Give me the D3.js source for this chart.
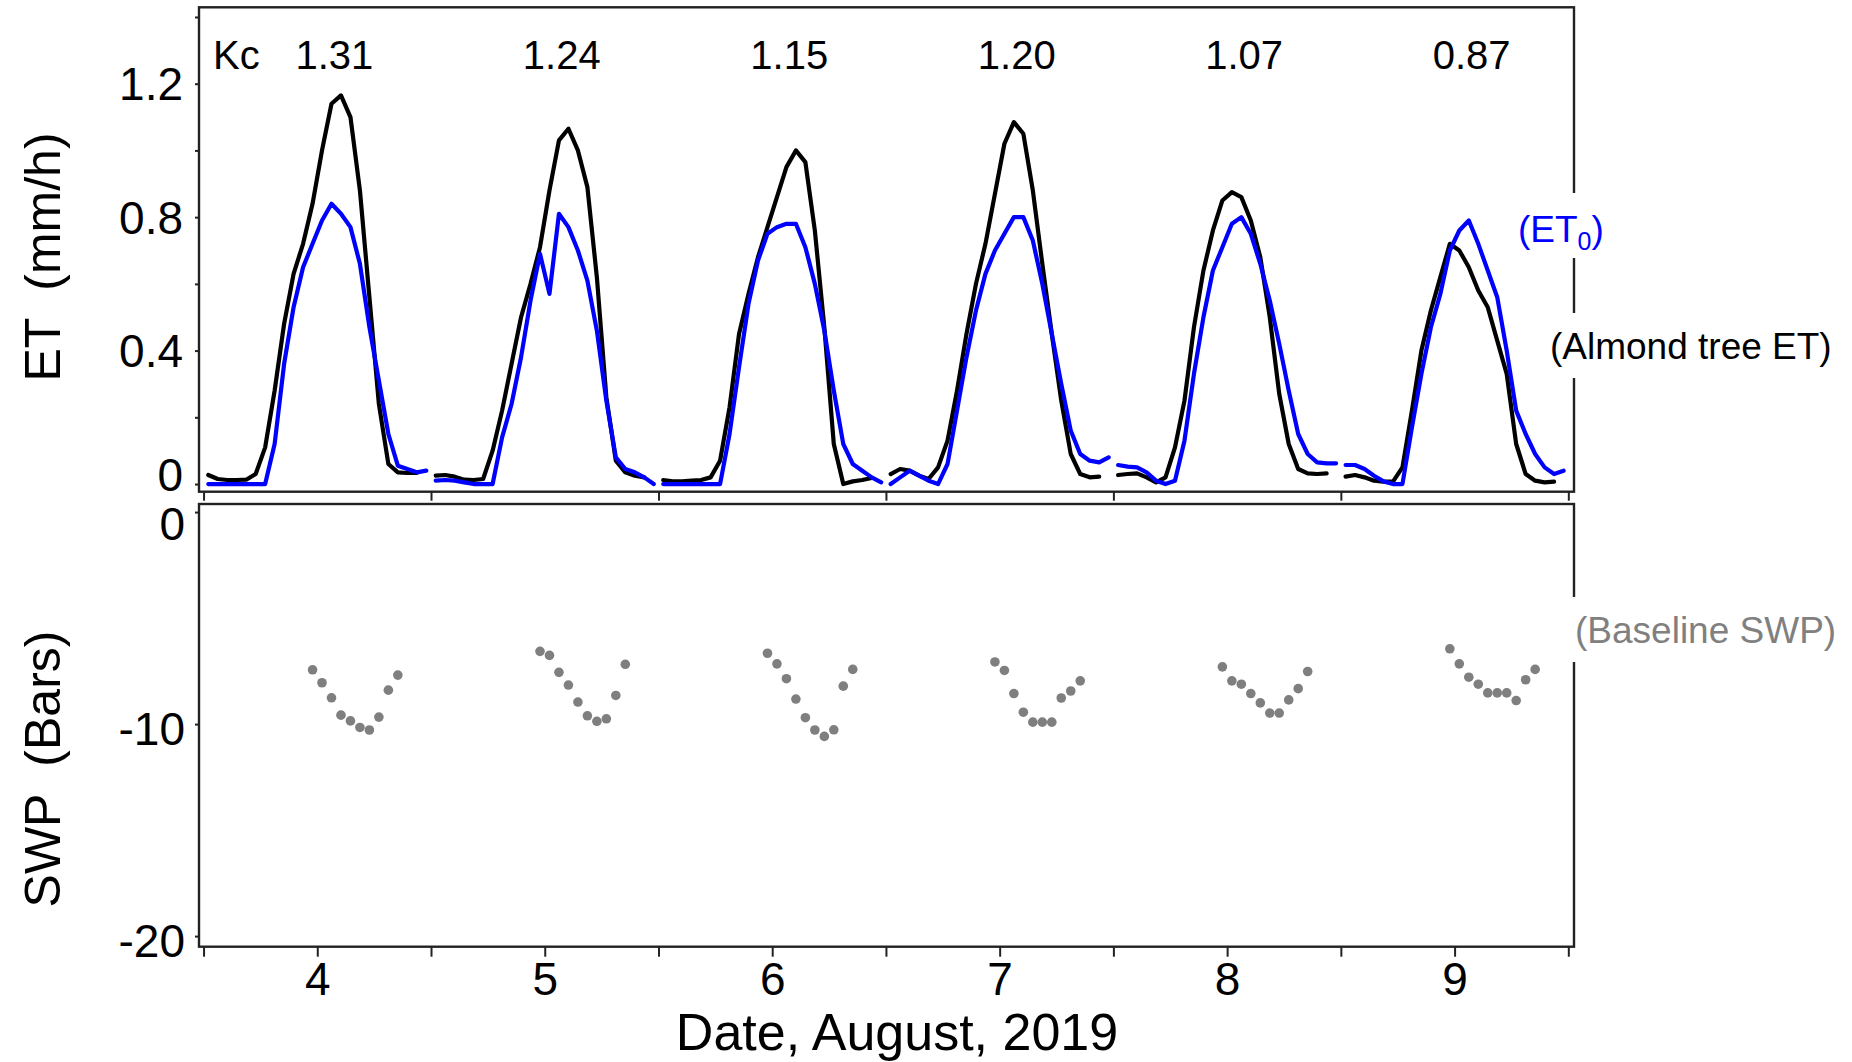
<!DOCTYPE html>
<html>
<head>
<meta charset="utf-8">
<script src="https://cdn.jsdelivr.net/npm/d3@7"></script>
<style>
  html, body { margin: 0; padding: 0; background: #fff; }
  svg { display: block; font-family: "Liberation Sans", Arial, Helvetica, sans-serif; }
</style>
</head>
<body>
<svg id="chart" width="1852" height="1062"></svg>
<script>
// August 2019 days shown on the x axis
const days = [4, 5, 6, 7, 8, 9];
// Daily crop coefficient (tree ET / ET0) printed above each peak
const kcValues = ["1.31", "1.24", "1.15", "1.20", "1.07", "0.87"];

// Hourly almond tree ET (mm/h), hours 0..23 of each day (last hour not logged)
const treeET = [
  [0.027, 0.015, 0.012, 0.012, 0.013, 0.03, 0.11, 0.28, 0.48, 0.63, 0.72, 0.84, 1.00, 1.14, 1.165, 1.10, 0.88, 0.56, 0.24, 0.06, 0.035, 0.033, 0.033, null],
  [0.025, 0.027, 0.022, 0.013, 0.012, 0.015, 0.10, 0.22, 0.36, 0.50, 0.60, 0.71, 0.88, 1.03, 1.065, 1.00, 0.89, 0.62, 0.26, 0.07, 0.035, 0.025, 0.02, null],
  [0.012, 0.008, 0.008, 0.01, 0.012, 0.02, 0.07, 0.23, 0.45, 0.57, 0.68, 0.77, 0.86, 0.95, 1.00, 0.965, 0.76, 0.47, 0.12, 0.0, 0.008, 0.012, 0.018, null],
  [0.03, 0.045, 0.04, 0.025, 0.015, 0.05, 0.13, 0.28, 0.45, 0.60, 0.72, 0.87, 1.02, 1.085, 1.05, 0.88, 0.66, 0.45, 0.25, 0.09, 0.03, 0.02, 0.022, null],
  [0.027, 0.03, 0.032, 0.02, 0.005, 0.02, 0.11, 0.25, 0.47, 0.64, 0.76, 0.85, 0.875, 0.86, 0.79, 0.68, 0.50, 0.27, 0.12, 0.045, 0.032, 0.03, 0.032, null],
  [0.022, 0.027, 0.02, 0.01, 0.007, 0.007, 0.05, 0.22, 0.40, 0.52, 0.62, 0.72, 0.70, 0.65, 0.58, 0.53, 0.43, 0.33, 0.12, 0.03, 0.01, 0.005, 0.007, null]
];

// Hourly reference evapotranspiration ET0 (mm/h), hours 0..23
const et0 = [
  [0, 0, 0, 0, 0, 0, 0, 0.12, 0.36, 0.53, 0.65, 0.72, 0.79, 0.84, 0.81, 0.77, 0.66, 0.47, 0.31, 0.15, 0.055, 0.045, 0.035, 0.04],
  [0.01, 0.012, 0.01, 0.005, 0, 0, 0, 0.14, 0.24, 0.38, 0.55, 0.69, 0.57, 0.81, 0.77, 0.70, 0.61, 0.46, 0.25, 0.08, 0.045, 0.035, 0.02, 0],
  [0, 0, 0, 0, 0, 0, 0, 0.15, 0.35, 0.54, 0.67, 0.75, 0.77, 0.78, 0.78, 0.71, 0.60, 0.46, 0.28, 0.12, 0.06, 0.04, 0.02, 0.005],
  [0, 0.02, 0.04, 0.025, 0.01, 0, 0.06, 0.22, 0.38, 0.52, 0.63, 0.70, 0.75, 0.80, 0.80, 0.73, 0.60, 0.45, 0.30, 0.16, 0.09, 0.07, 0.065, 0.08],
  [0.057, 0.052, 0.05, 0.035, 0.01, 0, 0.01, 0.13, 0.33, 0.50, 0.64, 0.71, 0.78, 0.80, 0.75, 0.66, 0.55, 0.42, 0.28, 0.15, 0.09, 0.065, 0.062, 0.062],
  [0.057, 0.057, 0.045, 0.025, 0.008, 0, 0, 0.17, 0.33, 0.47, 0.57, 0.70, 0.76, 0.79, 0.72, 0.64, 0.56, 0.40, 0.22, 0.15, 0.09, 0.05, 0.03, 0.04]
];

// Baseline stem water potential (bars), hourly from 11:00 to 20:00
const swpHours = [11, 12, 13, 14, 15, 16, 17, 18, 19, 20];
const swp = [
  [-7.44, -8.05, -8.76, -9.58, -9.85, -10.16, -10.28, -9.67, -8.40, -7.69],
  [-6.57, -6.76, -7.56, -8.16, -8.96, -9.61, -9.87, -9.75, -8.65, -7.18],
  [-6.66, -7.16, -7.86, -8.82, -9.70, -10.28, -10.58, -10.27, -8.21, -7.42],
  [-7.07, -7.47, -8.56, -9.44, -9.91, -9.91, -9.91, -8.77, -8.44, -7.96],
  [-7.30, -7.96, -8.12, -8.56, -9.00, -9.48, -9.48, -8.86, -8.33, -7.52],
  [-6.45, -7.16, -7.79, -8.12, -8.53, -8.53, -8.53, -8.89, -7.91, -7.42]
];

// Tick values
const etTicks = [0, 0.2, 0.4, 0.6, 0.8, 1.0, 1.2, 1.4];
const etLabelled = [0, 0.4, 0.8, 1.2];
const swpTicks = [0, -10, -20];
const dayTicks = [3.5, 4, 4.5, 5, 5.5, 6, 6.5, 7, 7.5, 8, 8.5, 9, 9.5];

// ---------------------------------------------------------------- layout
const svg = d3.select("#chart");
const left = 199, right = 1574;
const top1 = 7.3, bottom1 = 491.7;   // ET panel
const top2 = 504, bottom2 = 946.7;   // SWP panel
const frameColor = "#222";

const x = d3.scaleLinear().domain([3.48, 9.525]).range([left, right]);
const yET = d3.scaleLinear().domain([-0.023, 1.429]).range([bottom1, top1]);
const ySWP = d3.scaleLinear().domain([0.38, -20.5]).range([top2, bottom2]);

// time of hour h within day d (day d spans d-0.5 .. d+0.5)
const tOf = (d, h) => d - 0.5 + (h + 0.5) / 24;

// ---------------------------------------------------------------- ET panel
const line = d3.line()
  .defined(p => p.v !== null)
  .x(p => x(p.t))
  .y(p => yET(p.v));

const gLines = svg.append("g");
function drawSeries(series, color) {
  series.forEach((vals, i) => {
    const pts = vals.map((v, h) => ({ t: tOf(days[i], h), v }));
    gLines.append("path")
      .attr("d", line(pts))
      .attr("fill", "none")
      .attr("stroke", color)
      .attr("stroke-width", 4.2)
      .attr("stroke-linejoin", "round")
      .attr("stroke-linecap", "round");
  });
}
drawSeries(treeET, "#000");
drawSeries(et0, "#0000ff");

// Kc row
svg.append("text")
  .attr("x", left + 14).attr("y", 69)
  .attr("font-size", 40).attr("fill", "#000")
  .text("Kc");
svg.append("g").selectAll("text")
  .data(kcValues)
  .join("text")
  .attr("x", (d, i) => x(days[i] + 0.075))
  .attr("y", 69)
  .attr("text-anchor", "middle")
  .attr("font-size", 40)
  .attr("fill", "#000")
  .text(d => d);

// ---------------------------------------------------------------- SWP panel
const gDots = svg.append("g");
swp.forEach((vals, i) => {
  gDots.selectAll(null)
    .data(vals.map((v, k) => ({ t: tOf(days[i], swpHours[k]), v })))
    .join("circle")
    .attr("cx", p => x(p.t))
    .attr("cy", p => ySWP(p.v))
    .attr("r", 4.8)
    .attr("fill", "#7f7f7f");
});

// ---------------------------------------------------------------- frames
[[top1, bottom1], [top2, bottom2]].forEach(([t, b]) => {
  svg.append("rect")
    .attr("x", left).attr("y", t)
    .attr("width", right - left).attr("height", b - t)
    .attr("fill", "none")
    .attr("stroke", frameColor)
    .attr("stroke-width", 2.4);
});

// ---------------------------------------------------------------- axes
function styleAxis(g) {
  g.select(".domain").remove();
  g.selectAll(".tick line").attr("stroke", frameColor).attr("stroke-width", 2);
  g.selectAll(".tick text")
    .attr("fill", "#000")
    .attr("font-family", "'Liberation Sans', Arial, sans-serif");
}

// ET y axis
const axET = svg.append("g")
  .attr("transform", `translate(${left},0)`)
  .call(d3.axisLeft(yET)
    .tickValues(etTicks)
    .tickSize(4)
    .tickPadding(12)
    .tickFormat(d => etLabelled.some(v => Math.abs(v - d) < 1e-9) ? (d === 0 ? "0" : d3.format(".1f")(d)) : ""));
styleAxis(axET);
axET.selectAll(".tick text").attr("font-size", 46).attr("dy", d => d === 0 ? "0.14em" : "0.35em");

// SWP y axis
const axSWP = svg.append("g")
  .attr("transform", `translate(${left},0)`)
  .call(d3.axisLeft(ySWP)
    .tickValues(swpTicks)
    .tickSize(4)
    .tickPadding(10)
    .tickFormat(d => d === 0 ? "0" : String(d)));
styleAxis(axSWP);
axSWP.selectAll(".tick text").attr("font-size", 46).attr("dy", d => d === 0 ? "0.6em" : "0.45em");

// half-day ticks under the ET panel
const axMid = svg.append("g")
  .attr("transform", `translate(0,${bottom1})`)
  .call(d3.axisBottom(x)
    .tickValues(dayTicks.filter(d => d % 1 !== 0))
    .tickSize(9)
    .tickFormat(""));
styleAxis(axMid);

// date axis under the SWP panel
const axDate = svg.append("g")
  .attr("transform", `translate(0,${bottom2})`)
  .call(d3.axisBottom(x)
    .tickValues(dayTicks)
    .tickSize(10)
    .tickPadding(6)
    .tickFormat(d => d % 1 === 0 ? String(d) : ""));
styleAxis(axDate);
axDate.selectAll(".tick text").attr("font-size", 46);

// ---------------------------------------------------------------- titles
svg.append("text")
  .attr("transform", "translate(60,257) rotate(-90)")
  .attr("text-anchor", "middle")
  .attr("font-size", 50)
  .attr("fill", "#000")
  .style("white-space", "pre")
  .text("ET  (mm/h)");

svg.append("text")
  .attr("transform", "translate(60,769) rotate(-90)")
  .attr("text-anchor", "middle")
  .attr("font-size", 50)
  .attr("fill", "#000")
  .style("white-space", "pre")
  .text("SWP  (Bars)");

svg.append("text")
  .attr("x", 897).attr("y", 1050)
  .attr("text-anchor", "middle")
  .attr("font-size", 52)
  .attr("fill", "#000")
  .text("Date, August, 2019");

// ---------------------------------------------------------------- series labels
const gLab = svg.append("g");
gLab.append("rect").attr("x", 1560).attr("y", 193).attr("width", 60).attr("height", 65).attr("fill", "#fff");
gLab.append("rect").attr("x", 1548).attr("y", 313).attr("width", 300).attr("height", 65).attr("fill", "#fff");
gLab.append("rect").attr("x", 1568).attr("y", 597).attr("width", 280).attr("height", 65).attr("fill", "#fff");

const et0Label = gLab.append("text")
  .attr("x", 1518).attr("y", 242)
  .attr("font-size", 37)
  .attr("fill", "#0000ff");
et0Label.append("tspan").text("(ET");
et0Label.append("tspan").attr("font-size", 25).attr("dy", 8).text("0");
et0Label.append("tspan").attr("dy", -8).text(")");

gLab.append("text")
  .attr("x", 1550).attr("y", 359)
  .attr("font-size", 37)
  .attr("fill", "#000")
  .text("(Almond tree ET)");

gLab.append("text")
  .attr("x", 1575).attr("y", 643)
  .attr("font-size", 37)
  .attr("fill", "#808080")
  .text("(Baseline SWP)");
</script>
</body>
</html>
